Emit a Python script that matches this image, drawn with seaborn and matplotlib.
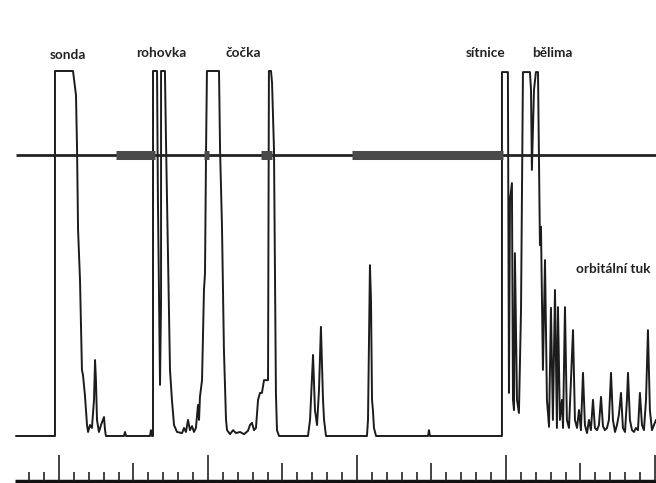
import numpy as np
import pandas as pd
import matplotlib
matplotlib.use("Agg")
import matplotlib.pyplot as plt
import seaborn as sns

# A-scan echogram: depth in scale ticks, amplitude in % of saturation
depth = [
    -2.89, -0.27, -0.27, 0.94, 1.14, 1.21, 1.28, 1.41, 1.54, 1.61, 1.74, 1.88, 1.95, 2.08,
    2.21, 2.35, 2.42, 2.48, 2.55, 2.68, 2.82, 2.95, 3.02, 3.09, 3.15, 4.36, 4.43, 4.50,
    6.11, 6.17, 6.24,
    6.31, 6.31, 6.58, 6.64, 6.78, 6.85, 6.85, 7.11, 7.18, 7.32, 7.45, 7.58, 7.72, 7.92,
    8.26, 8.39, 8.52, 8.66, 8.79, 8.93, 9.06, 9.19, 9.33, 9.40, 9.46, 9.60, 9.73, 9.80,
    9.87, 9.93, 10.74, 10.81, 10.94, 11.07, 11.21, 11.28, 11.48, 11.68, 11.88, 12.15,
    12.42, 12.68, 12.82, 12.95, 13.09, 13.22, 13.36, 13.49, 13.62, 13.76, 14.03, 14.09,
    14.23, 14.30, 14.43, 14.56, 14.63, 14.77,
    16.71, 16.85, 17.05, 17.18, 17.32, 17.45, 17.58, 17.72, 17.79, 17.92, 20.67, 20.74,
    20.87, 20.94, 21.01, 21.07, 21.14, 21.28, 24.77, 24.83, 24.90,
    29.73, 29.73, 30.13, 30.20, 30.27, 30.40, 30.47, 30.54, 30.60, 30.74, 30.87, 31.01,
    31.14, 31.61, 31.68, 31.74, 31.88, 32.01, 32.15, 32.21, 32.28, 32.35, 32.48, 32.62,
    32.75, 32.89, 33.02, 33.15, 33.29, 33.42, 33.49, 33.62, 33.76, 33.83, 33.96, 34.09,
    34.23, 34.36, 34.50, 34.63, 34.77, 34.90, 35.03, 35.17, 35.30, 35.44, 35.57, 35.70,
    35.84, 35.97, 36.11, 36.24, 36.38, 36.51, 36.64, 36.78, 36.91, 37.05, 37.18, 37.32,
    37.45, 37.58, 37.72, 37.85, 37.99, 38.12, 38.19, 38.32, 38.46, 38.59, 38.72, 38.86,
    38.99, 39.13, 39.26, 39.40, 39.53, 39.66, 39.80, 39.93, 40.07,
]
amplitude = [
    0, 0, 100, 100, 93.4, 78.9, 56.4, 42.7, 18.1, 16.7, 11.2, 3.0, 1.1, 3.0,
    2.2, 9.9, 20.8, 15.3, 4.4, 1.1, 3.0, 4.4, 5.2, 1.6, 0, 0, 1.1, 0,
    0, 1.6, 0,
    0, 100, 100, 64.7, 14.0, 37.3, 100, 100, 81.1, 48.2, 18.1, 9.9, 3.0, 1.1,
    0.8, 2.2, 1.1, 4.4, 1.6, 2.7, 1.1, 2.2, 8.5, 4.4, 10.7, 15.3, 40.0, 44.7,
    78.4, 100, 100, 78.4, 57.3, 23.6, 4.4, 1.6, 0.5, 1.6, 0.8, 1.1,
    0.5, 1.4, 3.0, 3.6, 1.6, 2.2, 9.9, 11.8, 11.8, 15.3, 15.3, 100,
    100, 96.7, 78.4, 11.8, 1.6, 0,
    0, 4.4, 22.2, 7.1, 3.0, 12.6, 29.9, 9.9, 4.4, 0, 0, 4.4,
    46.8, 37.3, 9.9, 7.1, 2.2, 0, 0, 1.6, 0,
    0, 99.7, 99.7, 11.8, 64.7, 69.3, 9.9, 7.1, 50.1, 9.9, 6.3, 34.5,
    99.7, 99.7, 94.8, 72.9, 94.8, 99.7, 99.7, 78.4, 52.3, 57.3, 18.1, 48.2,
    9.9, 2.5, 35.1, 4.4, 40.0, 2.2, 35.3, 4.4, 9.9, 2.2, 35.3, 4.4,
    2.2, 15.3, 29.0, 4.4, 2.2, 7.1, 1.6, 17.3, 3.0, 0.8, 4.4, 1.6,
    9.9, 2.2, 1.6, 3.0, 10.7, 2.7, 1.6, 2.2, 4.4, 17.3, 4.4, 1.1,
    3.0, 5.8, 11.8, 2.2, 1.1, 9.9, 17.3, 4.4, 1.6, 1.1, 2.2, 1.6,
    11.8, 3.0, 1.6, 9.9, 29.0, 7.1, 1.6, 3.0, 4.4,
]

gate_level = 77.0
gate_start = [3.83, 9.73, 13.56, 19.66]
gate_end = [6.44, 10.07, 14.30, 29.80]

labels = ["sonda", "rohovka", "čočka", "sítnice", "bělima", "orbitální tuk"]
label_depth = [0.58, 6.88, 12.35, 28.66, 33.09, 37.18]
label_amp = [104.4, 104.9, 104.9, 104.9, 104.9, 45.8]

scale_level = -12.4
ticks = np.arange(-2, 41)

sns.set_theme(style="white")
plt.rcParams["font.family"] = ["Lato", "DejaVu Sans"]

fig = plt.figure(figsize=(6.56, 4.83), dpi=100)
ax = fig.add_axes([0, 0, 1, 1])

df = pd.DataFrame({"depth": depth, "amplitude": amplitude})
sns.lineplot(data=df, x="depth", y="amplitude", sort=False, estimator=None,
             color="#1c1c1c", lw=1.4, ax=ax)

# threshold line with measurement gates
ax.hlines(gate_level, -2.89, 40.07, color="#222222", lw=2.0, zorder=3)
ax.hlines([gate_level] * len(gate_start), gate_start, gate_end,
          color="#4a4a4a", lw=6.5, zorder=3)

# depth scale
ax.hlines(scale_level, -2.95, 40.07, color="#111111", lw=2.5)
for t in ticks:
    if t % 10 == 0:
        top = -5.2
    elif t % 5 == 0:
        top = -7.4
    else:
        top = -9.9
    ax.vlines(t, scale_level, top, color="#222222", lw=1.2)

for lab, x, y in zip(labels, label_depth, label_amp):
    ax.text(x, y, lab, ha="center", va="center", fontsize=9.8,
            fontweight="bold", color="#222222")

ax.set_xlim(-3.96, 40.07)
ax.set_ylim(-12.88, 119.45)
ax.axis("off")

fig.savefig("out.png", dpi=100)
